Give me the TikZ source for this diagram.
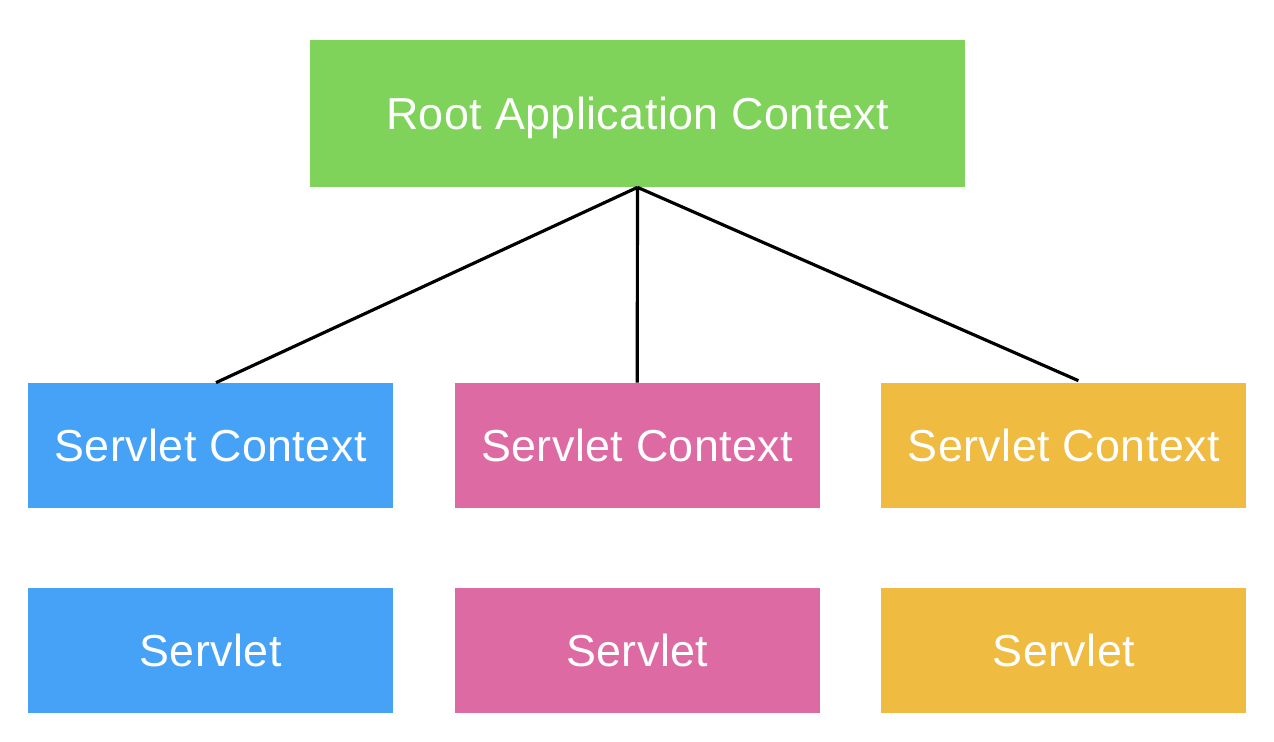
\documentclass[tikz,border=0pt]{standalone}
\usepackage{fontspec}
\newfontfamily\boxfont{Liberation Sans}[LetterSpace=1]
\usetikzlibrary{positioning}
\definecolor{rootgreen}{HTML}{7FD35A}
\definecolor{ctxblue}{HTML}{45A2F7}
\definecolor{ctxpink}{HTML}{DE6AA3}
\definecolor{ctxyellow}{HTML}{EFBB40}
\tikzset{
	node distance=1.22cm,
	box/.style={draw=none, text=white, inner sep=0pt, text depth=0pt,
		font=\boxfont\fontsize{25.5}{30}\selectfont},
	rootbox/.style={box, fill=rootgreen, minimum width=13.1cm, minimum height=2.94cm},
	ctxbox/.style={box, minimum width=7.3cm, minimum height=2.5cm},
	link/.style={line width=1.8pt},
}

\begin{document}
\begin{tikzpicture}
		\useasboundingbox (0,0) rectangle (25.48,-14.84);
		\node[rootbox] (root) at (12.75,-2.27) {Root Application Context};
		\node[ctxbox, fill=ctxblue] (ctx1) at (4.21,-8.91) {Servlet Context};
		\node[ctxbox, fill=ctxpink, right=of ctx1] (ctx2) {Servlet Context};
		\node[ctxbox, fill=ctxyellow, right=of ctx2] (ctx3) {Servlet Context};
		\node[ctxbox, fill=ctxblue, below=1.58cm of ctx1] (srv1) {Servlet};
		\node[ctxbox, fill=ctxpink, below=1.58cm of ctx2] (srv2) {Servlet};
		\node[ctxbox, fill=ctxyellow, below=1.58cm of ctx3] (srv3) {Servlet};
		\draw[link] (root.south) -- ([xshift=0.11cm]ctx1.north)
			(root.south) -- (ctx2.north)
			(root.south) -- ([xshift=0.29cm, yshift=0.04cm]ctx3.north);
	\end{tikzpicture}
\end{document}
